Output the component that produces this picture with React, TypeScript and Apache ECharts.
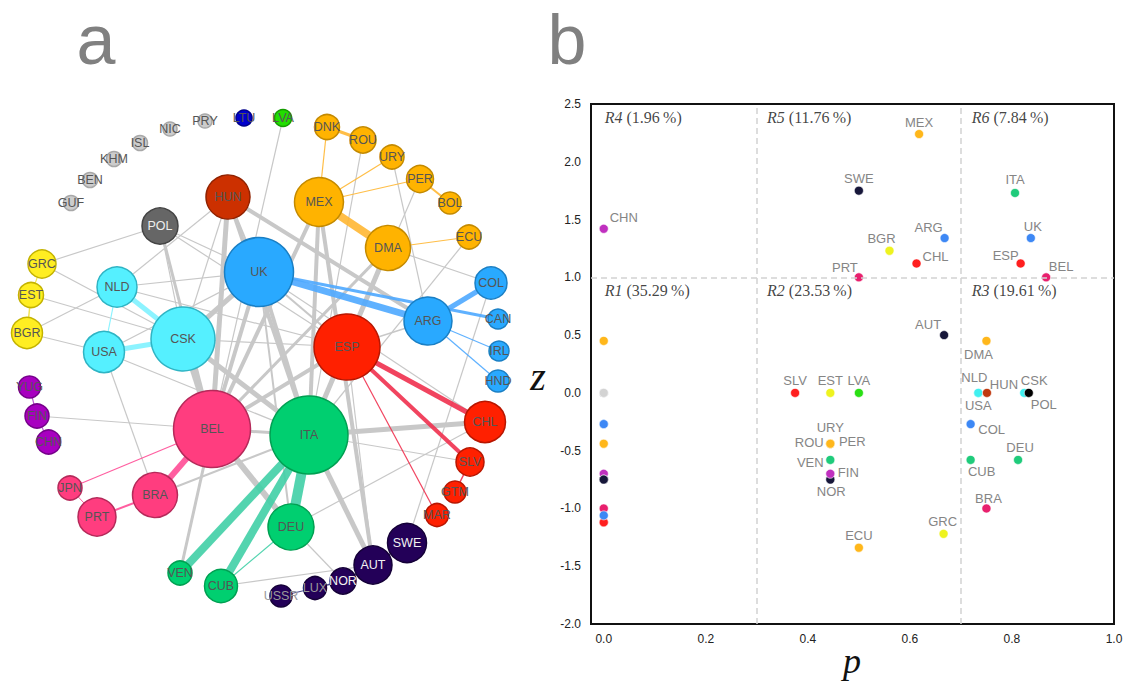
import React, { useEffect, useRef } from "react";
import * as echarts from "echarts";

// ---------------- data ----------------
const nodeNames = ["PRY","LTU","LVA","NIC","ISL","KHM","BEN","GUF","DNK","ROU","URY","PER","BOL","ECU","HUN","MEX","POL","DMA","UK","GRC","COL","NLD","EST","BGR","CSK","USA","ARG","CAN","IRL","HND","ESP","YUG","FIN","CHN","BEL","ITA","CHL","SLV","GTM","MAR","JPN","BRA","PRT","DEU","SWE","AUT","NOR","LUX","USSR","VEN","CUB"];
// community index of every node
const nodeCommunity = [13,12,11,13,13,13,13,13,0,0,0,0,0,0,9,0,10,0,1,8,1,2,8,8,2,2,1,1,1,1,3,7,7,7,4,5,3,3,3,3,4,4,4,5,6,6,6,6,6,5,5];
// participation coefficient p
const pValues = [0,0,0.5,0,0,0,0,0,0,0.444,0.444,0.444,0,0.5,0.751,0.618,0.833,0.75,0.837,0.666,0.719,0.734,0.444,0.56,0.824,0.734,0.668,0,0,0,0.817,0,0.444,0,0.867,0.806,0.613,0.375,0,0,0,0.75,0.5,0.812,0.5,0.667,0.444,0,0,0.444,0.719];
// within-module degree z
const zValues = [0,0,0,0,0,0,0,0,0.45,-0.44,-0.44,-0.44,-0.44,-1.34,0,2.24,0,0.45,1.34,-1.22,-0.27,0,0,1.23,0,0,1.34,-0.27,-0.27,-1.06,1.12,-0.7,-0.7,1.42,1.0,1.73,1.12,0,-1.12,-1.12,-1.0,-1.0,1.0,-0.58,1.75,0.5,-0.75,-0.75,-0.75,-0.58,-0.58];
// node strength (drawn as radius)
const nodeStrength = [7,8,8.5,7,7.5,7.5,7.5,7.5,12.5,13,12,13.5,11,12,22,24.5,18,22.5,34.5,14,16,20,12.5,15.5,32,20.5,24,10,10,11,33,11,12,12,38.5,39,20.5,14,11,11.5,12,22.5,19,23,19.5,19,13,11.5,11,12,16.5];
// edges: source, target, weight
const edgeList: [string, string, number][] = [
  ["LVA","BEL",1.2],["ROU","ITA",1.2],["URY","ARG",1.2],["PER","ESP",1.2],["ECU","ITA",1.2],["DMA","COL",1.2],
  ["HUN","ARG",4],["HUN","BEL",5],["HUN","ITA",4],["HUN","CSK",1.2],["HUN","NLD",1.2],["HUN","UK",2],
  ["POL","GRC",1.2],["POL","BEL",3],["POL","ESP",1.2],["POL","UK",1.2],["POL","CSK",1.2],
  ["MEX","BEL",4],["MEX","ITA",4],["MEX","AUT",4],["DMA","BEL",3],["DMA","ITA",5],
  ["GRC","CSK",1.2],["EST","CSK",1.2],["BGR","NLD",1.2],["BGR","USA",1.2],
  ["NLD","UK",1.2],["NLD","ESP",1.2],["USA","UK",1.2],["USA","ITA",1.2],["USA","BRA",1.2],["FIN","BEL",1.2],
  ["CSK","BEL",6],["CSK","ITA",5],["CSK","UK",5],["CSK","ESP",1.2],
  ["UK","BEL",4],["UK","ITA",4],["UK","ESP",2],["UK","DEU",2],["UK","CHL",1.2],
  ["ESP","BEL",4],["ESP","ITA",3],["ESP","ARG",1.5],["ESP","AUT",1.2],
  ["ITA","CHL",5],["ITA","SLV",1.2],["ITA","AUT",5],
  ["BEL","VEN",3],["BEL","DEU",6],["BEL","ITA",3],["BRA","ITA",2],
  ["DEU","NOR",1.2],["DEU","CUB",1.2],["CUB","AUT",1.2],["DEU","CHL",1.2],["SWE","COL",1.2],
  ["DNK","ROU",3],["DNK","MEX",1.2],["URY","MEX",1.2],["PER","MEX",1.2],["PER","BOL",2],["MEX","DMA",8],["DMA","ECU",1.2],
  ["UK","ARG",7],["UK","CAN",3],["ARG","COL",5],["ARG","IRL",1.2],["ARG","HND",1.2],
  ["CSK","NLD",5],["CSK","USA",5],["NLD","USA",1.2],
  ["ESP","CHL",5],["ESP","SLV",4],["ESP","MAR",1.2],["SLV","GTM",1.5],
  ["BEL","BRA",6],["BEL","JPN",1.2],["BRA","PRT",2],["JPN","PRT",1],
  ["YUG","FIN",1.2],["FIN","CHN",1.2],["GRC","EST",1.2],["EST","BGR",1.5],
  ["ITA","VEN",8],["ITA","CUB",8],["ITA","DEU",10],
  ["USSR","LUX",1.2],["LUX","NOR",1.5],["NOR","AUT",1.2],["AUT","SWE",1.2],
];
const regionNames = ["R1","R2","R3","R4","R5","R6"];
const regionShares = ["35.29","23.53","19.61","1.96","11.76","7.84"];
const pThresholds = [0.3, 0.7];
const zThreshold = 1.0;
const unlabeled = ["PRY","LTU","NIC","ISL","KHM","BEN","GUF","DNK","BOL","CAN","IRL","HND","YUG","GTM","MAR","JPN","LUX","USSR"];
const drawLast = ["PRY","NIC","ISL","KHM","BEN","GUF","LUX","USSR","FIN","HND","HUN","POL"];

// ---------------- layout & style ----------------
const nodeX = [205,244,283,170,140,114,90,71,327,363,392,420,450,469,228,319,160,388,259,42,491,117,31,27,183,104,428,498,499,498,347,29.5,37,48.6,212,309,485,470,455,437,70,155,97,291,407,373,343,315,281,180,221];
const nodeY = [121,118,118,129,143,159,180,203,127,140,157,179,203,237,197,202,226,248,272,264,283,287,295,333,339,352,321,319,351,381,347,387,416,442,429,435,422,462,492,515,488,495,517,527,543,565,581,588,596,573,586];
const regionAnchorP = [0.002,0.32,0.721,0.002,0.32,0.721];
const regionAnchorZ = [0.885,0.885,0.885,2.38,2.38,2.38];
const labelOffset: Record<string, [number, number]> = {
  CHN:[20,-11], MEX:[0,-12], SWE:[0,-12], ITA:[0,-13], ARG:[-16,-11], UK:[2,-12], BGR:[-8,-12], CHL:[19,-7],
  ESP:[-15,-8], PRT:[-14,-10], BEL:[15,-11], AUT:[-16,-11], DMA:[-8,14], SLV:[0,-12], EST:[0,-12], LVA:[0,-12],
  NLD:[-4,-15], HUN:[17,-8], CSK:[10,-12], USA:[0,13], POL:[15,12], COL:[21,5], URY:[0,-16], ROU:[-21,-1],
  PER:[22,-2], VEN:[-20,3], FIN:[18,-1], NOR:[1,12], CUB:[11,12], DEU:[2,-12], BRA:[2,-10], GRC:[-1,-12], ECU:[0,-12],
};
const communityFill = ["#ffb300","#29a9ff","#55f0ff","#ff2000","#ff3d7f","#00cf70","#230058","#a800c0","#ffee22","#cc3000","#666666","#22dd00","#0000cc","#cccccc"];
const communityBorder = ["#c48a00","#1a7fc4","#2fb4c4","#b81600","#b52a5a","#00a052","#150038","#76008a","#c4b300","#902200","#444444","#159c00","#00008c","#a8a8a8"];
const communityEdge = ["#ffb733","#4ea9ff","#80f2ff","#f0304e","#ff4d96","#40cfa6","#3d3d80","#b54ccc","#f0e040","#999","#999","#999","#999","#999"];
const communityDot = ["#ffb71b","#3d88f5","#40f0f0","#ff1f1f","#e8206d","#1fcb7b","#17173a","#c030bf","#eef31f","#c0390f","#000000","#2adf14","#0a1fd0","#d3d3d3"];
const sans = "'Liberation Sans', Arial, Helvetica, sans-serif";
const serif = "'Liberation Serif', 'DejaVu Serif', serif";

export default function App() {
  const ref = useRef<HTMLDivElement>(null);
  useEffect(() => {
    const chart = echarts.init(ref.current!, null, { renderer: "svg" });
    const idx = (n: string) => nodeNames.indexOf(n);

    const graphNodes = nodeNames.map((n, i) => {
      const c = nodeCommunity[i];
      let lc = "#555";
      if (c === 6) lc = nodeStrength[i] >= 13 ? "#f2f2f2" : "#9a9a9a";
      if (c === 10) lc = "#eeeeee";
      return {
        name: n,
        x: nodeX[i],
        y: nodeY[i],
        symbolSize: nodeStrength[i] * 2,
        itemStyle: { color: communityFill[c], borderColor: communityBorder[c], borderWidth: 1.5 },
        label: { color: lc },
      };
    });
    const links = edgeList.map(([a, b, w]) => {
      const ca = nodeCommunity[idx(a)];
      const same = ca === nodeCommunity[idx(b)];
      return {
        source: a,
        target: b,
        same,
        lineStyle: { width: w, color: same ? communityEdge[ca] : "#c8c8c8", opacity: same ? 0.9 : 1 },
      };
    });
    links.sort((l1, l2) => Number(l1.same) - Number(l2.same));

    const minX = Math.min(...nodeX), maxX = Math.max(...nodeX);
    const minY = Math.min(...nodeY), maxY = Math.max(...nodeY);

    const order = nodeNames.map((_, i) => i).sort((a, b) => {
      const ra = drawLast.indexOf(nodeNames[a]);
      const rb = drawLast.indexOf(nodeNames[b]);
      return (ra < 0 ? -1 : ra) - (rb < 0 ? -1 : rb);
    });
    const dots = order.map((i) => {
      const n = nodeNames[i];
      const labelled = unlabeled.indexOf(n) < 0;
      return {
        name: n,
        value: [pValues[i], zValues[i]],
        itemStyle: { color: communityDot[nodeCommunity[i]] },
        label: labelled
          ? { show: true, position: "inside", offset: labelOffset[n] || [0, -12], formatter: n }
          : { show: false },
      };
    });

    const regions = regionNames.map((r, i) => ({
      value: [regionAnchorP[i], regionAnchorZ[i]],
      label: { formatter: `{i|${r}}{n| (${regionShares[i]}\u2009%)}` },
    }));

    chart.setOption({
      animation: false,
      backgroundColor: "#ffffff",
      graphic: [
        { type: "text", x: 96, y: 40, style: { text: "a", fontSize: 70, fontFamily: sans, fill: "#808080", align: "center", verticalAlign: "middle" } },
        { type: "text", x: 567, y: 40, style: { text: "b", fontSize: 70, fontFamily: sans, fill: "#808080", align: "center", verticalAlign: "middle" } },
        { type: "text", x: 538, y: 376, style: { text: "z", fontSize: 40, fontFamily: serif, fontStyle: "italic", fill: "#111", align: "center", verticalAlign: "middle" } },
        { type: "text", x: 852, y: 661, style: { text: "p", fontSize: 36, fontFamily: serif, fontStyle: "italic", fill: "#111", align: "center", verticalAlign: "middle" } },
      ],
      grid: {
        left: 591, right: 12, top: 104, bottom: 61,
        show: true, borderColor: "#111", borderWidth: 2,
        containLabel: false, outerBoundsMode: "none",
      },
      xAxis: {
        type: "value",
        min: -0.025,
        max: 1,
        minInterval: 0.2,
        maxInterval: 0.2,
        splitLine: { show: false },
        axisLine: { show: false },
        axisTick: { show: false },
        axisLabel: {
          fontSize: 12,
          color: "#222",
          fontFamily: sans,
          margin: 9,
          formatter: (v: number) => (Math.abs(v / 0.2 - Math.round(v / 0.2)) < 1e-6 ? v.toFixed(1) : ""),
        },
      },
      yAxis: {
        type: "value",
        min: -2,
        max: 2.5,
        interval: 0.5,
        splitLine: { show: false },
        axisLine: { show: false },
        axisTick: { show: false },
        axisLabel: { fontSize: 12, color: "#222", fontFamily: sans, margin: 10, formatter: (v: number) => v.toFixed(1) },
      },
      series: [
        {
          type: "graph",
          layout: "none",
          left: minX,
          top: minY,
          width: maxX - minX,
          height: maxY - minY,
          roam: false,
          silent: true,
          symbol: "circle",
          data: graphNodes,
          links,
          label: { show: true, position: "inside", fontSize: 12.5, fontFamily: sans, color: "#555" },
          emphasis: { disabled: true },
          z: 2,
        },
        {
          type: "scatter",
          symbolSize: 9,
          silent: true,
          data: dots,
          itemStyle: { borderColor: "#ffffff", borderWidth: 0.6, opacity: 1 },
          label: { fontSize: 13, color: "#858585", fontFamily: sans },
          markLine: {
            silent: true,
            symbol: ["none", "none"],
            label: { show: false },
            lineStyle: { color: "#d2d2d2", type: [6, 4], width: 1.5 },
            data: [{ xAxis: pThresholds[0] }, { xAxis: pThresholds[1] }, { yAxis: zThreshold }],
          },
          z: 3,
        },
        {
          type: "scatter",
          symbolSize: 0,
          silent: true,
          data: regions,
          label: {
            show: true,
            position: "right",
            distance: 0,
            rich: {
              i: { fontFamily: serif, fontStyle: "italic", fontSize: 16, color: "#111" },
              n: { fontFamily: serif, fontSize: 16, color: "#111" },
            },
          },
          z: 4,
        },
      ],
    });
    return () => chart.dispose();
  }, []);
  return (
    <div
      ref={ref}
      style={{ position: "fixed", left: 0, top: 0, width: 1126, height: 685, background: "#fff" }}
    />
  );
}
